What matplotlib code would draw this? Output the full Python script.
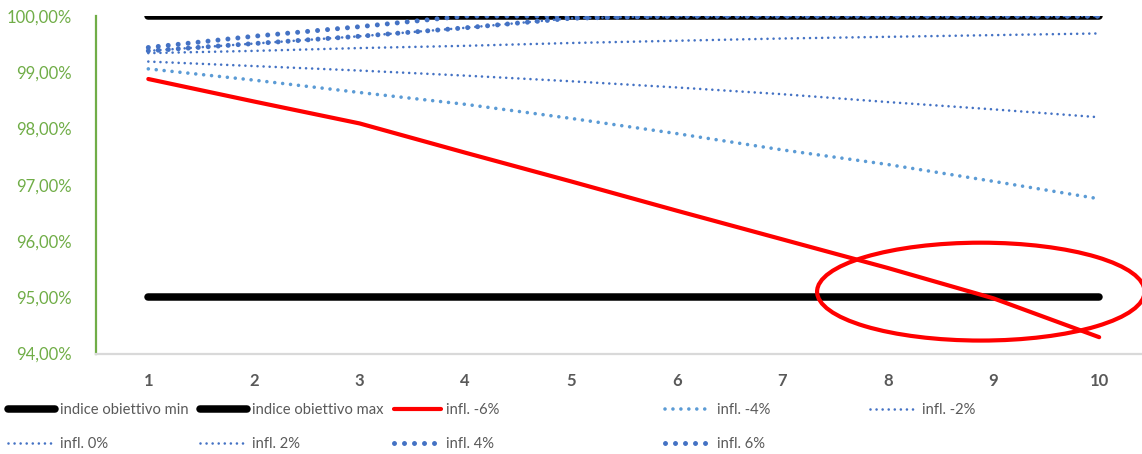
import matplotlib
matplotlib.use("Agg")
import matplotlib.pyplot as plt
from matplotlib.ticker import FuncFormatter, FixedLocator
from matplotlib.patches import Ellipse

plt.rcParams["font.family"] = ["Lato", "DejaVu Sans"]

# Years of the projection
years = [1, 2, 3, 4, 5, 6, 7, 8, 9, 10]

# Target band (percent)
target_min = [95.0, 95.0, 95.0, 95.0, 95.0, 95.0, 95.0, 95.0, 95.0, 95.0]
target_max = [100.0, 100.0, 100.0, 100.0, 100.0, 100.0, 100.0, 100.0, 100.0, 100.0]

# Index under different inflation scenarios (percent)
infl_m6 = [98.88, 98.48, 98.09, 97.57, 97.06, 96.54, 96.03, 95.52, 94.98, 94.29]
infl_m4 = [99.06, 98.86, 98.64, 98.43, 98.18, 97.91, 97.62, 97.36, 97.06, 96.75]
infl_m2 = [99.19, 99.11, 99.03, 98.94, 98.84, 98.73, 98.61, 98.47, 98.34, 98.20]
infl_0 = [99.34, 99.38, 99.43, 99.47, 99.52, 99.56, 99.60, 99.63, 99.66, 99.69]
infl_2 = [99.38, 99.51, 99.64, 99.79, 99.96, 100.0, 100.0, 100.0, 100.0, 100.0]
infl_4 = [99.38, 99.51, 99.64, 99.79, 99.96, 100.0, 100.0, 100.0, 100.0, 100.0]
infl_6 = [99.44, 99.64, 99.81, 100.0, 100.0, 100.0, 100.0, 100.0, 100.0, 100.0]

y_ticks = [94, 95, 96, 97, 98, 99, 100]

DARK_BLUE = "#4472C4"
LIGHT_BLUE = "#5B9BD5"
GREEN = "#70AD47"
GREY_TEXT = "#595959"

fig = plt.figure(figsize=(11.42, 4.54), dpi=100)
ax = fig.add_axes([95.5 / 1142, 100.5 / 454, (1152 - 95.5) / 1142, 337.5 / 454])


def dotted(gap):
    return (0, (0.001, gap))


lines = {}
lines["min"], = ax.plot(years, target_min, color="black", lw=5.4,
                        solid_capstyle="round", label="indice obiettivo min")
lines["max"], = ax.plot(years, target_max, color="black", lw=5.4,
                        solid_capstyle="round", label="indice obiettivo max")
lines["m6"], = ax.plot(years, infl_m6, color="#FF0000", lw=3.0,
                       solid_capstyle="round", label="infl. -6%")
lines["m4"], = ax.plot(years, infl_m4, color=LIGHT_BLUE, lw=2.6,
                       linestyle=dotted(2.2), dash_capstyle="round",
                       label="infl. -4%")
lines["m2"], = ax.plot(years, infl_m2, color=DARK_BLUE, lw=1.9,
                       linestyle=dotted(2.3), dash_capstyle="round",
                       label="infl. -2%")
lines["0"], = ax.plot(years, infl_0, color=DARK_BLUE, lw=1.9,
                      linestyle=dotted(2.3), dash_capstyle="round",
                      label="infl. 0%")
lines["2"], = ax.plot(years, infl_2, color=DARK_BLUE, lw=1.9,
                      linestyle=dotted(2.3), dash_capstyle="round",
                      label="infl. 2%")
lines["4"], = ax.plot(years, infl_4, color=DARK_BLUE, lw=3.6,
                      linestyle=dotted(2.0), dash_capstyle="round",
                      label="infl. 4%")
lines["6"], = ax.plot(years, infl_6, color=DARK_BLUE, lw=3.6,
                      linestyle=dotted(2.0), dash_capstyle="round",
                      label="infl. 6%")

# Highlight where the worst scenario leaves the target band
ax.add_patch(Ellipse((8.88, 95.10), 3.10, 1.74, fill=False,
                     edgecolor="#FF0000", lw=3.0, clip_on=False, zorder=5))

ax.set_xlim(0.5, 10.5)
ax.set_ylim(94, 100)
ax.xaxis.set_major_locator(FixedLocator(years))
ax.yaxis.set_major_locator(FixedLocator(y_ticks))
ax.yaxis.set_major_formatter(
    FuncFormatter(lambda v, _: f"{v:.2f}%".replace(".", ",")))

for side in ("top", "right"):
    ax.spines[side].set_visible(False)
ax.spines["left"].set_color(GREEN)
ax.spines["left"].set_linewidth(1.6)
ax.spines["bottom"].set_color("#D9D9D9")
ax.spines["bottom"].set_linewidth(1.6)

ax.tick_params(axis="y", length=0, pad=17, labelsize=12, labelcolor=GREEN)
ax.tick_params(axis="x", length=0, pad=14, labelsize=12, labelcolor=GREY_TEXT)
for lbl in ax.get_xticklabels():
    lbl.set_fontweight("bold")

# Legend laid out in columns under the plot
columns = [
    (8, ["min", "0"]),
    (200, ["max", "2"]),
    (394, ["m6", "4"]),
    (665, ["m4", "6"]),
    (870, ["m2"]),
]
for x_px, keys in columns:
    hs = [lines[k] for k in keys]
    fig.legend(hs, [h.get_label() for h in hs], loc="upper left",
               bbox_to_anchor=(x_px / 1142, (454 - 403) / 454),
               frameon=False, fontsize=10.6, labelcolor=GREY_TEXT,
               handlelength=3.2, handletextpad=0.35, borderpad=0,
               borderaxespad=0, labelspacing=1.35)

fig.savefig("out.png", dpi=100)
